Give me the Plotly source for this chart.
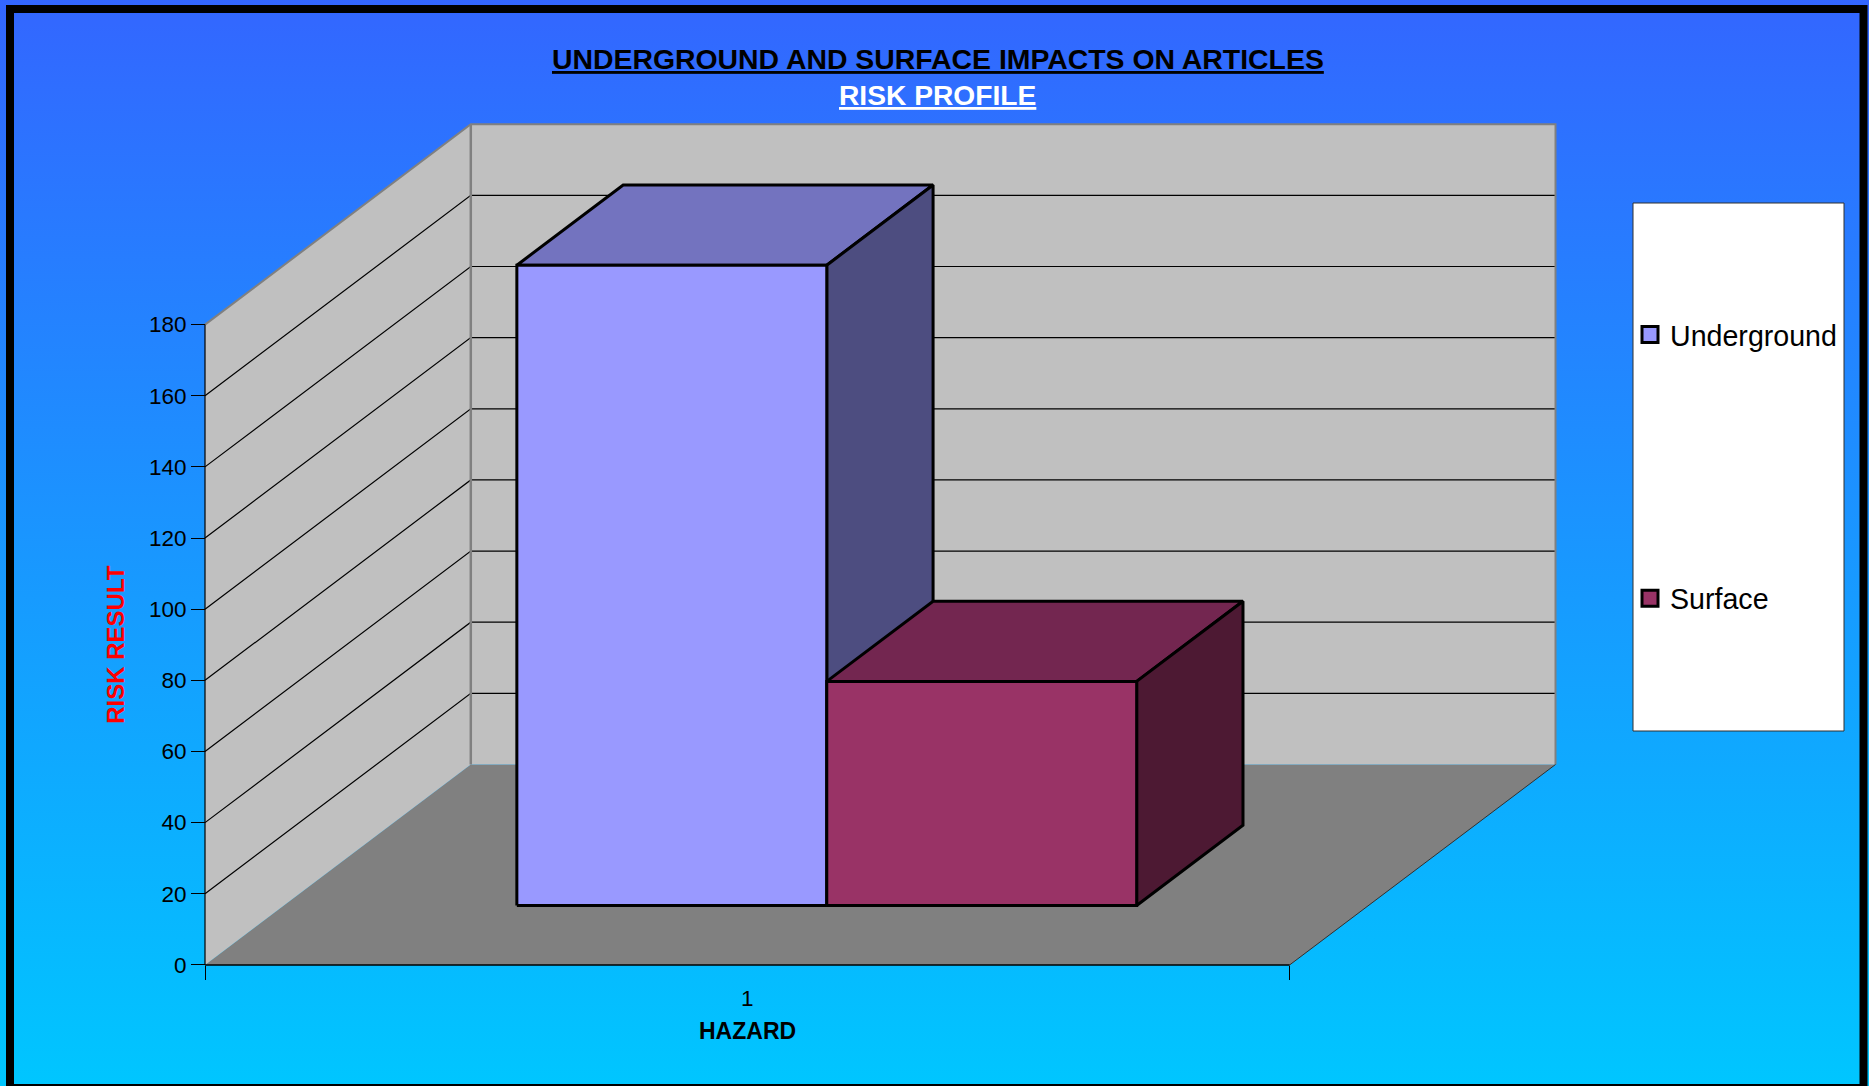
import plotly.graph_objects as go

# Chart data
series_names = ["Underground", "Surface"]
series_values = [180, 63]
category_labels = ["1"]
value_ticks = [0, 20, 40, 60, 80, 100, 120, 140, 160, 180]

# Excel-style face colours: front, top (75%), side (50%)
front_colors = ["#9999FF", "#993366"]
top_colors = ["#7373BF", "#732650"]
side_colors = ["#4D4D80", "#4D1933"]

# Page geometry, in pixels
W, H = 1869, 1086
LEFT, RIGHT = 205.0, 1289.7     # front edge of the floor
ZERO_Y, MAX_Y = 964.9, 324.6    # value 0 and value 180 on the front plane
DEPTH_DX, DEPTH_DY = 265.8, 200.4

VALUE_MAX = value_ticks[-1]
px_x = RIGHT - LEFT
px_y = (ZERO_Y - MAX_Y) / VALUE_MAX
OX = DEPTH_DX / px_x
OY = DEPTH_DY / px_y

# Axis ranges cover the whole page so that walls, bars and background share one scale
x_range = [-LEFT / px_x, (W - LEFT) / px_x]
y_range = [-(H - ZERO_Y) / px_y, ZERO_Y / px_y]

# Bar layout within the category: gap width 150%, depth ratio centred on the floor
GAP = 1.5
BAR_W = 1 / (len(series_values) + GAP)
BAR_SHIFT = 0.6 / px_x
Z0, Z1 = 0.2965, 0.6965


def proj(x, v, z):
    """Oblique projection of (category position, value, depth) onto the axes."""
    return x + z * OX, v + z * OY


def polygon(points):
    xy = [proj(*p) for p in points]
    xy.append(xy[0])
    return [p[0] for p in xy], [p[1] for p in xy]


def face(points, fill, line_color="black", line_width=3):
    xs, ys = polygon(points)
    return go.Scatter(
        x=xs, y=ys, mode="lines", fill="toself", fillcolor=fill,
        line=dict(color=line_color, width=line_width),
        showlegend=False, hoverinfo="skip",
    )


def path(points, color, width):
    xs, ys = [], []
    for p in points:
        if p is None:
            xs.append(None)
            ys.append(None)
        else:
            x, y = proj(*p)
            xs.append(x)
            ys.append(y)
    return go.Scatter(x=xs, y=ys, mode="lines", line=dict(color=color, width=width),
                      showlegend=False, hoverinfo="skip")


fig = go.Figure()

# Page background gradient
fig.add_trace(go.Scatter(
    x=[x_range[0], x_range[1], x_range[1], x_range[0], x_range[0]],
    y=[y_range[0], y_range[0], y_range[1], y_range[1], y_range[0]],
    mode="lines", fill="toself", line=dict(width=0),
    fillgradient=dict(type="vertical", colorscale=[[0, "#00C6FF"], [1, "#3366FF"]]),
    showlegend=False, hoverinfo="skip",
))

# Floor and walls
fig.add_trace(face([(0, 0, 0), (1, 0, 0), (1, 0, 1), (0, 0, 1)], "#808080", "#808080", 0))
fig.add_trace(face([(0, 0, 1), (1, 0, 1), (1, VALUE_MAX, 1), (0, VALUE_MAX, 1)], "#C0C0C0", "#C0C0C0", 0))
fig.add_trace(face([(0, 0, 0), (0, 0, 1), (0, VALUE_MAX, 1), (0, VALUE_MAX, 0)], "#C0C0C0", "#C0C0C0", 0))

# Gridlines along the left and back walls
grid = []
for v in value_ticks[1:-1]:
    grid += [(0, v, 0), (0, v, 1), (1, v, 1), None]
fig.add_trace(path(grid, "black", 1.2))

# Wall outline
fig.add_trace(path([(0, VALUE_MAX, 0), (0, VALUE_MAX, 1), (1, VALUE_MAX, 1), (1, 0, 1)], "#808080", 2))
fig.add_trace(path([(0, 0, 1), (0, VALUE_MAX, 1)], "#808080", 2.5))
fig.add_trace(path([(1, 0, 0), (1, 0, 1)], "#303030", 1))

# Value and category axis lines
fig.add_trace(path([(0, 0, 0), (0, VALUE_MAX, 0)], "black", 1.2))
fig.add_trace(path([(0, 0, 0), (1, 0, 0)], "black", 1.5))

# Bars, each as three faces projected from its value
for i, (name, value) in enumerate(zip(series_names, series_values)):
    x0 = (GAP / 2 + i) * BAR_W + BAR_SHIFT
    x1 = x0 + BAR_W
    fig.add_trace(face([(x0, value, Z0), (x1, value, Z0), (x1, value, Z1), (x0, value, Z1)], top_colors[i]))
    fig.add_trace(face([(x1, 0, Z0), (x1, 0, Z1), (x1, value, Z1), (x1, value, Z0)], side_colors[i]))
    fig.add_trace(face([(x0, 0, Z0), (x1, 0, Z0), (x1, value, Z0), (x0, value, Z0)], front_colors[i]))

# Legend entries
for i, name in enumerate(series_names):
    fig.add_trace(go.Scatter(
        x=[None], y=[None], mode="markers", name=name, legendgroup=name,
        marker=dict(symbol="square", size=16, color=front_colors[i], line=dict(color="black", width=3)),
    ))

FONT = "Liberation Sans"

annotations = [
    dict(xref="paper", yref="paper", x=937.6 / W, y=1 - 58.5 / H, xanchor="center", yanchor="middle",
         showarrow=False, text="<b><u>UNDERGROUND AND SURFACE IMPACTS ON ARTICLES</u></b>",
         font=dict(family=FONT, size=28.4, color="black")),
    dict(xref="paper", yref="paper", x=937.6 / W, y=1 - 95.5 / H, xanchor="center", yanchor="middle",
         showarrow=False, text="<b><u>RISK PROFILE</u></b>",
         font=dict(family=FONT, size=28.2, color="white")),
    dict(xref="paper", yref="y", x=116 / W, y=VALUE_MAX / 2, xanchor="center", yanchor="middle",
         showarrow=False, textangle=-90,
         text="<b>RISK RESULT</b>", font=dict(family=FONT, size=24, color="#FF0000")),
    dict(xref="x", yref="paper", x=0.5, y=1 - 1031 / H, xanchor="center", yanchor="middle",
         showarrow=False, text="<b>HAZARD</b>", font=dict(family=FONT, size=23, color="black")),
]

fig.update_layout(
    width=W, height=H, autosize=False,
    margin=dict(l=0, r=0, t=0, b=0, pad=0),
    paper_bgcolor="white", plot_bgcolor="rgba(0,0,0,0)",
    annotations=annotations,
    xaxis=dict(
        domain=[0, 1], range=x_range, anchor="free", position=1 - ZERO_Y / H,
        tickmode="array", tickvals=[0.5], ticktext=category_labels,
        ticks="outside", ticklen=13, tickcolor="rgba(0,0,0,0)",
        showgrid=False, zeroline=False, showline=False,
        tickfont=dict(family=FONT, size=22.5, color="black"),
        minor=dict(tickmode="array", tickvals=[0, 1], ticks="outside", ticklen=14,
                   tickcolor="black", tickwidth=1, showgrid=False),
    ),
    yaxis=dict(
        domain=[0, 1], range=y_range, anchor="free", position=LEFT / W,
        tickmode="array", tickvals=value_ticks,
        ticks="outside", ticklen=14, tickcolor="black", tickwidth=1,
        showgrid=False, zeroline=False, showline=False,
        tickfont=dict(family=FONT, size=22.5, color="black"),
    ),
    legend=dict(
        x=1630 / W, y=1 - 309.5 / H, xanchor="left", yanchor="top",
        bgcolor="rgba(0,0,0,0)", borderwidth=0, tracegroupgap=223.5,
        itemsizing="trace", font=dict(family=FONT, size=28.6, color="black"),
    ),
    shapes=[
        # Chart frame
        dict(type="rect", xref="paper", yref="paper", layer="above",
             x0=10 / W, x1=1863.5 / W, y0=1 - 1088 / H, y1=1 - 9 / H,
             line=dict(color="black", width=8)),
        # Legend panel
        dict(type="rect", xref="paper", yref="paper", layer="above",
             x0=1633 / W, x1=1844 / W, y0=1 - 731 / H, y1=1 - 203 / H,
             fillcolor="white", line=dict(color="#303030", width=1)),
    ],
)

fig.write_html("out.html")
